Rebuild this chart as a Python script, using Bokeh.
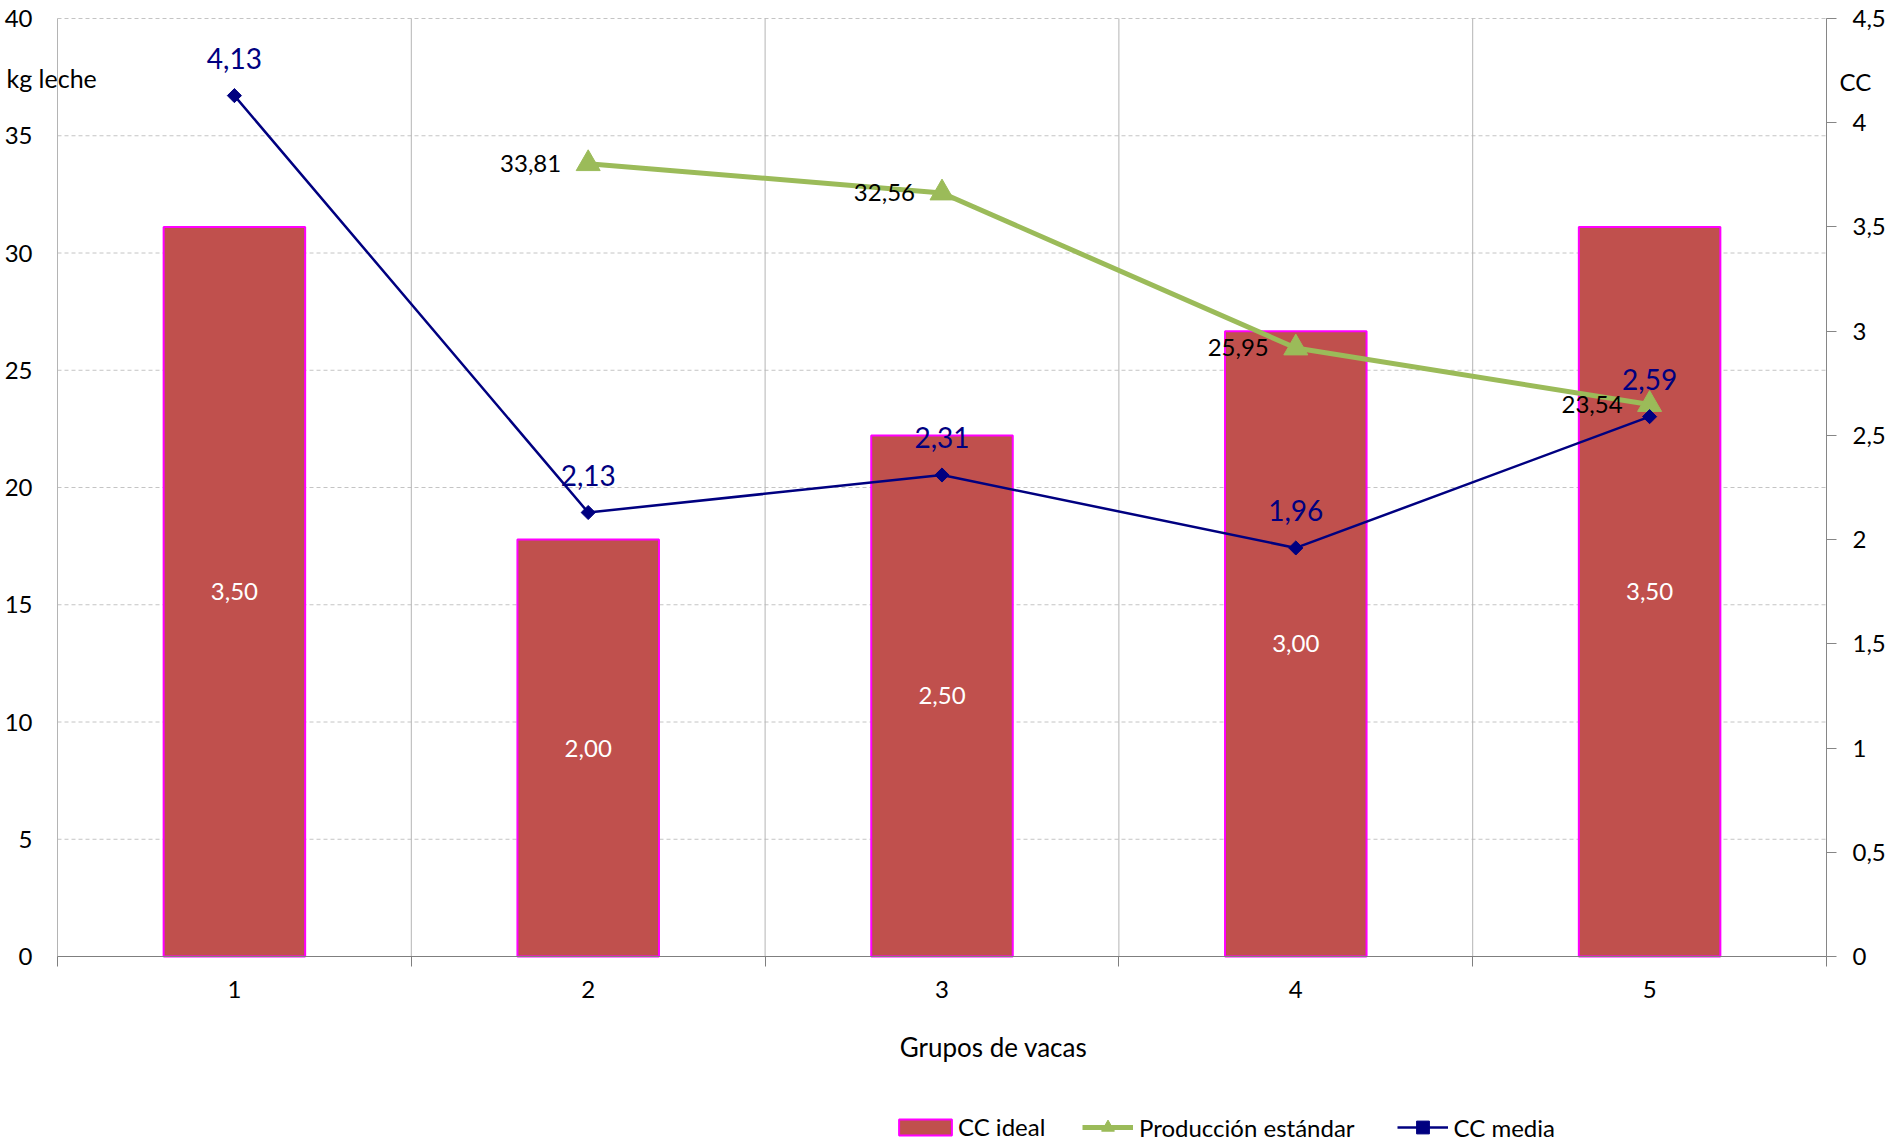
from bokeh.plotting import figure
from bokeh.models import (Range1d, LinearAxis, FixedTicker, ColumnDataSource, LabelSet,
                          Label, Legend, LegendItem, CustomJSTickFormatter)
from bokeh.core.properties import value
from bokeh.embed import file_html
from bokeh.resources import INLINE

# --- data -----------------------------------------------------------------
grupos = [1, 2, 3, 4, 5]
cc_ideal = [3.50, 2.00, 2.50, 3.00, 3.50]
cc_media = [4.13, 2.13, 2.31, 1.96, 2.59]
produccion_grupos = [2, 3, 4, 5]
produccion = [33.81, 32.56, 25.95, 23.54]

kg_ticks = [0, 5, 10, 15, 20, 25, 30, 35, 40]
cc_ticks = [0, 0.5, 1, 1.5, 2, 2.5, 3, 3.5, 4, 4.5]
grupo_bordes = [0.5, 1.5, 2.5, 3.5, 4.5, 5.5]

X_MIN, X_MAX = 0.5, 5.5
KG_MAX, CC_MAX = 40, 4.5


def coma(v):
    return f"{v:.2f}".replace(".", ",")


# --- page geometry (pixels) -------------------------------------------------
W, H = 1890, 1148
PLOT_L, PLOT_R, PLOT_T, PLOT_B = 57, 1826, 18, 956

x_per_px = (X_MAX - X_MIN) / (PLOT_R - PLOT_L)
kg_per_px = KG_MAX / (PLOT_B - PLOT_T)
cc_per_px = CC_MAX / (PLOT_B - PLOT_T)


def px_x(px):
    return X_MIN + (px - PLOT_L) * x_per_px


def px_y(py):
    return (PLOT_B - py) * kg_per_px


FONT = "Lato"
NAVY = "#000080"
GREEN = "#9BBB59"
RED = "#C0504D"
MAGENTA = "#FF00FF"

src_bar = ColumnDataSource(dict(x=grupos, cc=cc_ideal,
                                mid=[v / 2 for v in cc_ideal],
                                txt=[coma(v) for v in cc_ideal]))
src_media = ColumnDataSource(dict(x=grupos, cc=cc_media, txt=[coma(v) for v in cc_media]))
src_prod = ColumnDataSource(dict(x=produccion_grupos, kg=produccion,
                                 txt=[coma(v) for v in produccion]))

# the frame covers the whole page; axes sit at fixed data locations
p = figure(width=W, height=H, output_backend="svg", toolbar_location=None,
           x_range=Range1d(px_x(0), px_x(W)), y_range=Range1d(px_y(H), px_y(0)),
           x_axis_location=None, y_axis_location=None,
           min_border_left=0, min_border_right=0, min_border_top=0, min_border_bottom=0)
p.extra_y_ranges = {"cc": Range1d(-(H - PLOT_B) * cc_per_px, CC_MAX + PLOT_T * cc_per_px)}
p.outline_line_color = None
p.background_fill_color = "white"
p.border_fill_color = "white"
p.xgrid.visible = False
p.ygrid.visible = False

# gridlines inside the plot area
p.segment(x0=[X_MIN] * (len(kg_ticks) - 1), x1=[X_MAX] * (len(kg_ticks) - 1),
          y0=kg_ticks[1:], y1=kg_ticks[1:], line_color="#c4c4c4", line_width=1,
          line_dash="4 3")
p.segment(x0=grupo_bordes, x1=grupo_bordes, y0=[0] * len(grupo_bordes),
          y1=[KG_MAX] * len(grupo_bordes), line_color="#b4b4b4", line_width=1)

# category axis: labels at the centres, ticks at the group boundaries
xa = LinearAxis(fixed_location=0, bounds=(X_MIN, X_MAX),
                ticker=FixedTicker(ticks=grupos, minor_ticks=grupo_bordes))
xa.major_tick_out = 0
xa.major_tick_in = 0
xa.minor_tick_out = 10
xa.minor_tick_in = 0
xa.axis_line_color = "#7f7f7f"
xa.minor_tick_line_color = "#7f7f7f"
xa.major_label_standoff = 14
xa.major_label_text_font = FONT
xa.major_label_text_font_size = "24px"
xa.major_label_text_color = "black"
p.add_layout(xa, "below")

# left axis (kg leche)
ya = LinearAxis(fixed_location=X_MIN, bounds=(0, KG_MAX), ticker=FixedTicker(ticks=kg_ticks))
ya.axis_line_color = None
ya.major_tick_out = 0
ya.major_tick_in = 0
ya.minor_tick_line_color = None
ya.major_label_standoff = 25
ya.major_label_text_font = FONT
ya.major_label_text_font_size = "24px"
ya.major_label_text_color = "black"
p.add_layout(ya, "left")

# right axis (CC)
yr = LinearAxis(y_range_name="cc", fixed_location=X_MAX, bounds=(0, CC_MAX),
                ticker=FixedTicker(ticks=cc_ticks),
                formatter=CustomJSTickFormatter(code="return tick.toString().replace('.', ',')"))
yr.axis_line_color = "#868686"
yr.major_tick_line_color = "#868686"
yr.major_tick_out = 10
yr.major_tick_in = 0
yr.minor_tick_line_color = None
yr.major_label_standoff = 16
yr.major_label_text_font = FONT
yr.major_label_text_font_size = "24px"
yr.major_label_text_color = "black"
p.add_layout(yr, "right")

# series
bars = p.vbar(x="x", top="cc", bottom=0, width=0.4, source=src_bar, y_range_name="cc",
              fill_color=RED, line_color=MAGENTA, line_width=2)
gline = p.line(x="x", y="kg", source=src_prod, line_color=GREEN, line_width=5)
gmark = p.scatter(x="x", y="kg", source=src_prod, marker="triangle", size=24,
                  fill_color=GREEN, line_color=GREEN)
nline = p.line(x="x", y="cc", source=src_media, y_range_name="cc", line_color=NAVY, line_width=2.5)
nmark = p.scatter(x="x", y="cc", source=src_media, y_range_name="cc", marker="square",
                  angle=0.785398, size=10, fill_color=NAVY, line_color=NAVY)

# data labels
p.add_layout(LabelSet(x="x", y="mid", text="txt", source=src_bar, y_range_name="cc",
                      text_align="center", text_baseline="middle", text_color="white",
                      text_font=value(FONT), text_font_size="24px"))
p.add_layout(LabelSet(x="x", y="kg", text="txt", source=src_prod, x_offset=-27,
                      text_align="right", text_baseline="middle", text_color="black",
                      text_font=value(FONT), text_font_size="24px"))
p.add_layout(LabelSet(x="x", y="cc", text="txt", source=src_media, y_range_name="cc",
                      y_offset=27, text_align="center", text_baseline="alphabetic",
                      text_color=NAVY, text_font=value(FONT), text_font_size="28px"))

# axis titles
p.add_layout(Label(x=px_x(6), y=px_y(77), text="kg leche", text_align="left",
                   text_baseline="alphabetic", text_font=FONT, text_font_size="25px",
                   text_color="black"))
p.add_layout(Label(x=px_x(1839), y=px_y(81), text="CC", text_align="left",
                   text_baseline="alphabetic", text_font=FONT, text_font_size="24px",
                   text_color="black"))
p.add_layout(Label(x=px_x(993), y=px_y(1046), text="Grupos de vacas", text_align="center",
                   text_baseline="alphabetic", text_font=FONT, text_font_size="26px",
                   text_color="black"))

# legend: bar entry and line entries, laid out in one row under the chart
legend_style = dict(orientation="horizontal", padding=0, margin=0, border_line_color=None,
                    background_fill_alpha=0, label_height=28, label_text_font=FONT,
                    label_text_font_size="24px", label_text_color="black")
p.add_layout(Legend(items=[LegendItem(label="CC ideal", renderers=[bars])],
                    location=(892, H - 1141), glyph_width=66, glyph_height=20,
                    label_standoff=0, **legend_style))
p.add_layout(Legend(items=[LegendItem(label="Producción estándar", renderers=[gline, gmark]),
                           LegendItem(label="CC media", renderers=[nline, nmark])],
                    location=(1082, H - 1143), glyph_width=51, glyph_height=32,
                    label_standoff=6, spacing=42, **legend_style))

open("out.html", "w").write(file_html(p, INLINE))
